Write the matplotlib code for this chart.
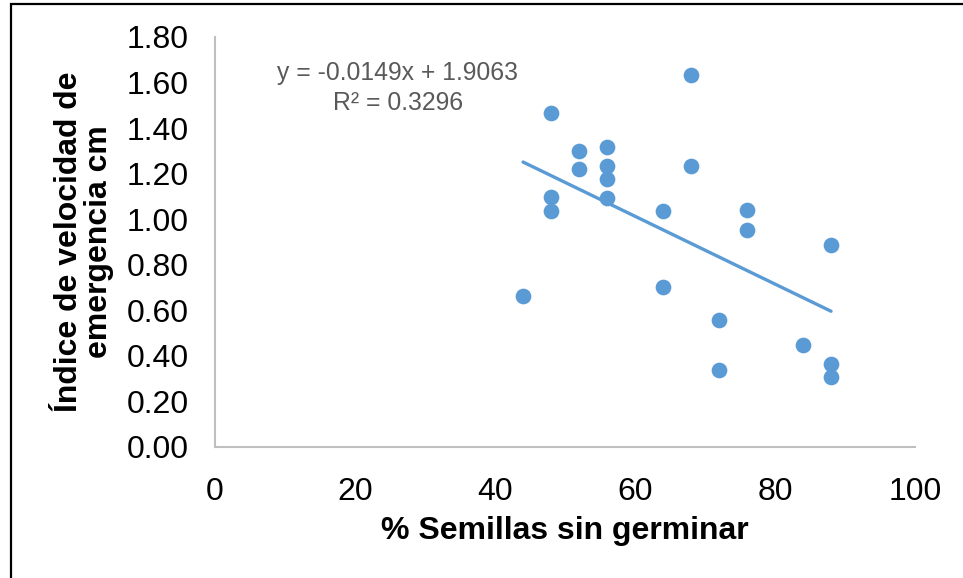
import matplotlib.pyplot as plt
from matplotlib.patches import Rectangle

# % seeds not germinated vs emergence speed index
semillas = [44, 48, 48, 48, 52, 52, 56, 56, 56, 56, 64, 64,
            68, 68, 72, 72, 76, 76, 84, 88, 88, 88]
indice = [0.663, 1.467, 1.098, 1.034, 1.298, 1.221, 1.318, 1.233, 1.175, 1.094, 1.036, 0.703,
          1.632, 1.233, 0.558, 0.337, 1.041, 0.952, 0.447, 0.888, 0.362, 0.308]

# trend line shown on the chart
pendiente = -0.0149
intercepto = 1.9063
r2 = 0.3296

x_ticks = [0, 20, 40, 60, 80, 100]
y_ticks = [0.0, 0.2, 0.4, 0.6, 0.8, 1.0, 1.2, 1.4, 1.6, 1.8]

plt.rcParams['font.family'] = ['Liberation Sans', 'DejaVu Sans']
azul = '#5B9BD5'

fig = plt.figure(figsize=(9.63, 5.78), dpi=100)
ax = fig.add_axes([0.2233, 0.2272, 0.7269, 0.7088])

ax.scatter(semillas, indice, s=128, color=azul, zorder=3, linewidths=0)

x0, x1 = min(semillas), max(semillas)
ax.plot([x0, x1], [pendiente * x0 + intercepto, pendiente * x1 + intercepto],
        color=azul, lw=2.4, solid_capstyle='round', zorder=2)

ax.text(26.1, 1.576, 'y = %.4fx + %.4f\nR² = %.4f' % (pendiente, intercepto, r2),
        ha='center', va='center', fontsize=17.8, color='#595959', linespacing=1.3)

ax.set_xlim(0, 100)
ax.set_ylim(0, 1.8)
ax.set_xticks(x_ticks)
ax.set_yticks(y_ticks)
ax.set_yticklabels(['%.2f' % v for v in y_ticks])
ax.tick_params(length=0, labelsize=23)
ax.tick_params(axis='y', pad=19)
ax.tick_params(axis='x', pad=22)
for s in ['top', 'right']:
    ax.spines[s].set_visible(False)
for s in ['left', 'bottom']:
    ax.spines[s].set_color('#BFBFBF')
    ax.spines[s].set_linewidth(1.5)

ax.set_xlabel('% Semillas sin germinar', fontsize=23, fontweight='bold', labelpad=6)
ax.set_ylabel('Índice de velocidad de\nemergencia cm', fontsize=23, fontweight='bold',
              labelpad=9, linespacing=1.0)

fig.patches.append(Rectangle((10.5 / 963, -0.1), 1.1, 1 - 4.5 / 578 + 0.1,
                             transform=fig.transFigure, fill=False, ec='black', lw=1.6))

fig.savefig('out.png', dpi=100)
